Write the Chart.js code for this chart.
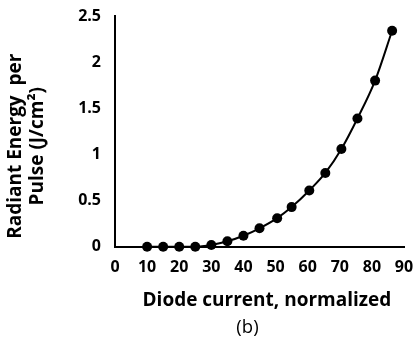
<!DOCTYPE html>
<html>
<head>
<meta charset="utf-8">
<script src="https://cdn.jsdelivr.net/npm/chart.js@4/dist/chart.umd.min.js"></script>
<style>
html,body{margin:0;padding:0;background:#fff;}
#wrap{width:417px;height:345px;position:relative;}
</style>
</head>
<body>
<div id="wrap"><canvas id="c" width="417" height="345"></canvas></div>
<script>
const diodeCurrent = [10, 15, 20, 25, 30, 35, 40, 45, 50.5, 55, 60.5, 65.5, 70.5, 75.5, 81, 86.3];
const radiantEnergy = [0, 0, 0, 0, 0.02, 0.06, 0.12, 0.20, 0.31, 0.43, 0.61, 0.80, 1.06, 1.39, 1.80, 2.34];
const xTicks = [0, 10, 20, 30, 40, 50, 60, 70, 80, 90];
const yTicks = [0, 0.5, 1, 1.5, 2, 2.5];
const xTitle = '   Diode current, normalized';
const yTitle = ['Radiant Energy  per      ', 'Pulse (J/cm\u00B2)      '];
const caption = '(b)     ';

const points = diodeCurrent.map((x, i) => ({x: x, y: radiantEnergy[i]}));
const FONT = '"Open Sans", "DejaVu Sans", sans-serif';

new Chart(document.getElementById('c'), {
  type: 'scatter',
  data: {
    datasets: [{
      data: points,
      showLine: true,
      borderColor: '#000',
      backgroundColor: '#000',
      borderWidth: 2,
      pointRadius: 5,
      pointBackgroundColor: '#000',
      pointBorderColor: '#000',
      pointBorderWidth: 0,
      cubicInterpolationMode: 'monotone',
      clip: false
    }]
  },
  options: {
    responsive: false,
    animation: false,
    devicePixelRatio: 1,
    layout: {padding: {left: 0, right: 13, top: 16, bottom: 0}},
    plugins: {
      legend: {display: false},
      tooltip: {enabled: false},
      title: {
        display: true,
        position: 'bottom',
        fullSize: false,
        text: caption,
        color: '#000',
        font: {family: FONT, size: 18.5, weight: 'normal', lineHeight: 1.2},
        padding: {top: 0, bottom: 6}
      }
    },
    scales: {
      x: {
        type: 'linear',
        min: 0, max: 90,
        afterBuildTicks: s => { s.ticks = xTicks.map(v => ({value: v})); },
        afterFit: s => { s.paddingLeft = 0; s.paddingRight = 0; },
        grid: {display: false, drawTicks: false, tickLength: 0},
        border: {display: true, color: '#000', width: 2},
        ticks: {color: '#000', font: {family: FONT, size: 16, weight: 'bold'}, padding: 11, maxRotation: 0, callback: v => String(v)},
        title: {display: true, text: xTitle, color: '#000', font: {family: FONT, size: 19, weight: 'bold', lineHeight: 1.2}, padding: {top: 1, bottom: 5}}
      },
      y: {
        type: 'linear',
        min: 0, max: 2.5,
        afterBuildTicks: s => { s.ticks = yTicks.map(v => ({value: v})); },
        afterFit: s => { s.width = 115; s.paddingTop = 0; s.paddingBottom = 0; },
        grid: {display: false, drawTicks: false, tickLength: 0},
        border: {display: true, color: '#000', width: 2},
        ticks: {color: '#000', font: {family: FONT, size: 16, weight: 'bold'}, padding: 14, callback: v => String(v)},
        title: {display: true, text: yTitle, color: '#000', font: {family: FONT, size: 19, weight: 'bold', lineHeight: 1.16}, padding: {top: 5, bottom: 8}}
      }
    }
  }
});
</script>
</body>
</html>
